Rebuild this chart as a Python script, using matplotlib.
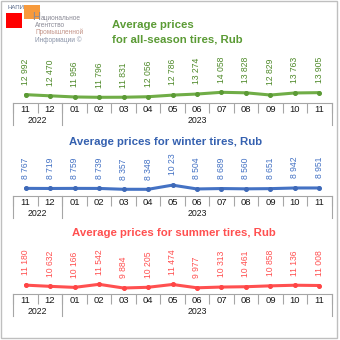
import numpy as np
import matplotlib
matplotlib.use("Agg")
import matplotlib.pyplot as plt
from matplotlib.patches import Rectangle
from matplotlib.transforms import blended_transform_factory, Bbox

plt.rcParams['font.family'] = ['Liberation Sans', 'DejaVu Sans']

# ---- data ----
months = ["11", "12", "01", "02", "03", "04", "05", "06", "07", "08", "09", "10", "11"]
years = ["2022", "2023"]
allseason = [12992, 12470, 11956, 11796, 11831, 12056, 12786, 13274, 14058, 13828, 12829, 13763, 13905]
winter = [8767, 8719, 8759, 8739, 8357, 8348, 10230, 8504, 8689, 8560, 8651, 8942, 8951]
summer = [11180, 10632, 10166, 11542, 9884, 10205, 11474, 9977, 10313, 10461, 10858, 11136, 11008]

W = H = 340
fig = plt.figure(figsize=(3.4, 3.4), dpi=100)
fig.patch.set_facecolor("white")


def fx(x):
    return x / W


def fy(y):
    return 1 - y / H


# outer border
fig.patches.append(Rectangle((fx(1), fy(338)), fx(336), 337 / H, transform=fig.transFigure,
                             fill=False, edgecolor="#bfbfbf", lw=1))

# ---- logo ----
fig.text(fx(7), fy(7.5), "НАПИ", fontsize=4.3, color="#5a6a8a", va="center", ha="left")
fig.patches.append(Rectangle((fx(6), fy(28)), fx(16), 15 / H, transform=fig.transFigure,
                             facecolor="#ff0000", edgecolor="none"))
fig.patches.append(Rectangle((fx(24), fy(19)), fx(16), 14 / H, transform=fig.transFigure,
                             facecolor="#f79a3c", edgecolor="none"))
fig.text(fx(32.5), fy(17), "Н", fontsize=8, color="#8a8a96", va="center", ha="left")
fig.text(fx(41), fy(18), "ациональное", fontsize=4.7, color="#8a8a96", va="center", ha="left")
fig.text(fx(35), fy(25.5), "Агентство", fontsize=4.7, color="#8a8a96", va="center", ha="left")
fig.text(fx(35), fy(32.5), "Промышленной", fontsize=4.7, color="#c4968a", va="center", ha="left")
fig.text(fx(35), fy(40), "Информации ©", fontsize=4.7, color="#8a94a8", va="center", ha="left")

LEFT, RIGHT = 13.3, 331.7


def fmt(v):
    return f"{v:,}".replace(",", " ")


def panel(values, top_px, bottom_px, ylim, line_c, mark_c, lab_c, clip_top_px):
    ax = fig.add_axes([fx(LEFT), fy(bottom_px), fx(RIGHT - LEFT), (bottom_px - top_px) / H])
    ax.set_xlim(-0.5, 12.5)
    ax.set_ylim(*ylim)
    ax.patch.set_alpha(0)
    for s in ["top", "left", "right"]:
        ax.spines[s].set_visible(False)
    ax.spines["bottom"].set_color("#a6a6a6")
    ax.spines["bottom"].set_linewidth(0.8)
    x = np.arange(len(values))
    ax.plot(x, values, color=line_c, lw=2.2, solid_capstyle="round", zorder=2)
    ax.plot(x, values, "o", color=mark_c, ms=2.6, zorder=3)
    ax.set_yticks([])
    ax.set_xticks(np.arange(-0.5, 13, 1))
    ax.set_xticklabels([])
    ax.tick_params(axis="x", which="major", length=7.3, width=0.8, color="#a6a6a6", direction="out")
    ax.set_xticks(x, minor=True)
    ax.set_xticklabels(months, minor=True, fontsize=6.8, color="#1a1a1a")
    ax.tick_params(axis="x", which="minor", length=0, pad=1.2)
    clipbox = Bbox.from_extents(0, 0, W, H - clip_top_px)
    for xi, v in zip(x, values):
        t = ax.annotate(fmt(v), (xi, v), xytext=(0, 7.0), textcoords="offset points",
                        rotation=90, ha="center", va="bottom", fontsize=6.2, color=lab_c)
        t.set_clip_box(clipbox)
        t.set_clip_on(True)
    # year separators and labels
    tr = blended_transform_factory(ax.transData, fig.transFigure)
    for b in [-0.5, 1.5, 12.5]:
        ax.plot([b, b], [fy(bottom_px), fy(bottom_px + 22)], transform=tr, color="#a6a6a6",
                lw=0.8, clip_on=False)
    ax.text(0.5, fy(bottom_px + 17), years[0], transform=tr, ha="center", va="center",
            fontsize=6.3, color="#1a1a1a")
    ax.text(7, fy(bottom_px + 17), years[1], transform=tr, ha="center", va="center",
            fontsize=6.3, color="#1a1a1a")
    return ax


panel(allseason, 50, 103, (9222, 33178), "#70ad47", "#5b9a35", "#4f8a2a", 0)
panel(winter, 150, 196, (5320, 26112), "#4472c4", "#3e69b8", "#4472c4", 153.5)
panel(summer, 245, 294.3, (7036, 29320), "#ff5050", "#ff4545", "#ff5050", 0)

# ---- titles ----
fig.text(fx(112), fy(25), "Average prices", fontsize=8.2, fontweight="bold", color="#5b9b35",
         ha="left", va="center")
fig.text(fx(112), fy(39.5), "for all-season tires, Rub", fontsize=8.2, fontweight="bold",
         color="#5b9b35", ha="left", va="center")
fig.text(fx(166), fy(141.7), "Average prices for winter tires, Rub", fontsize=8.2, fontweight="bold",
         color="#3561b0", ha="center", va="center")
fig.text(fx(173.5), fy(233), "Average prices for summer tires, Rub", fontsize=8.2, fontweight="bold",
         color="#ff5050", ha="center", va="center")

fig.savefig("out.png", dpi=100)
